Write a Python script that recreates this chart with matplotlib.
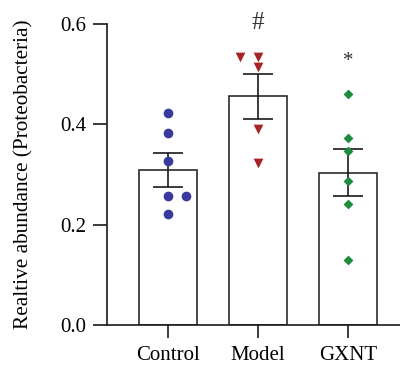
import matplotlib
matplotlib.use("Agg")
import matplotlib.pyplot as plt
import numpy as np

categories = ["Control", "Model", "GXNT"]
means = [0.309, 0.456, 0.304]
sems = [0.034, 0.045, 0.047]

control_pts = [0.422, 0.383, 0.327, 0.258, 0.258, 0.221]
control_off = [0, 0, 0, 0, 0.2, 0]
model_pts = [0.534, 0.534, 0.515, 0.391, 0.323]
model_off = [-0.2, 0, 0, 0, 0]
gxnt_pts = [0.460, 0.373, 0.348, 0.288, 0.242, 0.129]
gxnt_off = [0, 0, 0, 0, 0, 0]

annotations = ["", "#", "*"]
annot_y = [None, 0.602, 0.525]
annot_size = [15, 18, 15]

plt.rcParams['font.family'] = ['Liberation Serif', 'DejaVu Serif']

fig = plt.figure(figsize=(4.0, 3.66), dpi=100)
ax = fig.add_axes([0.2675, 0.112, 0.7325, 0.822])

x = np.arange(len(categories))
ax.bar(x, means, width=0.65, color='white', edgecolor='#2b2b2b', linewidth=1.2, zorder=1)
ax.errorbar(x, means, yerr=sems, fmt='none', ecolor='#1a1a1a', elinewidth=1.2,
            capsize=11, capthick=1.2, zorder=3)

series = [(control_pts, control_off, 'o', '#3a3a9c', 7),
          (model_pts, model_off, 'v', '#a82323', 7),
          (gxnt_pts, gxnt_off, 'D', '#1a8c3c', 5)]
for i, (pts, off, m, c, s) in enumerate(series):
    ax.scatter(np.array(off) + x[i], pts, marker=m, color=c, s=s**2, zorder=4, linewidths=0)

for i, t in enumerate(annotations):
    if t:
        ax.text(x[i], annot_y[i], t, ha='center', va='center', fontsize=annot_size[i],
                color='#333333')

ax.set_xlim(-0.675, 2.58)
ax.set_ylim(0, 0.6)
ax.set_yticks([0.0, 0.2, 0.4, 0.6])
ax.set_yticklabels(["0.0", "0.2", "0.4", "0.6"])
ax.set_xticks(x)
ax.set_xticklabels(categories)
ax.spines['top'].set_visible(False)
ax.spines['right'].set_visible(False)
for s in ['left', 'bottom']:
    ax.spines[s].set_linewidth(1.2)
    ax.spines[s].set_color('#1a1a1a')
ax.tick_params(axis='y', length=10, width=1.2, color='#1a1a1a', labelsize=15, pad=5)
ax.tick_params(axis='x', length=9, width=1.2, color='#1a1a1a', labelsize=15, pad=6)
ax.set_ylabel("Realtive abundance (Proteobacteria)", fontsize=15.3, labelpad=19)

fig.savefig("out.png", dpi=100)
